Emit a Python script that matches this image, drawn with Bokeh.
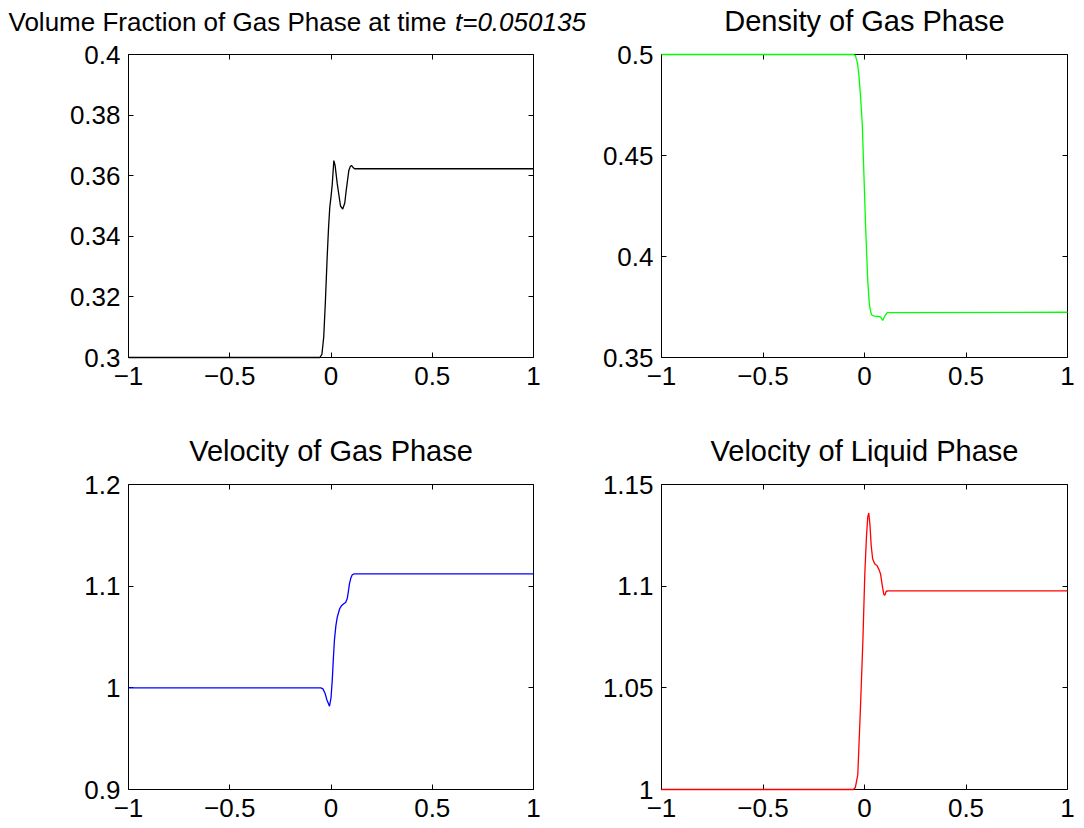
from bokeh.plotting import figure
from bokeh.models import Range1d, FixedTicker, LinearAxis, Label, CustomJSTickFormatter
from bokeh.layouts import gridplot
from bokeh.embed import file_html
from bokeh.resources import INLINE

FONT = "Liberation Sans"

# ---- data ----
x_ticks = [-1, -0.5, 0, 0.5, 1]
x_tick_labels = ["\u22121", "\u22120.5", "0", "0.5", "1"]

vf_x = [-1, -0.055, -0.045, -0.036, -0.028, -0.019, -0.012, -0.006, 0.0, 0.006, 0.01, 0.014,
        0.02, 0.031, 0.047, 0.058, 0.068, 0.075, 0.088, 0.095, 0.101, 0.108, 0.116, 0.13, 1]
vf_y = [0.3, 0.3, 0.301, 0.3067, 0.318, 0.333, 0.343, 0.3496, 0.353, 0.357, 0.361, 0.365,
        0.3635, 0.3573, 0.350, 0.349, 0.351, 0.3551, 0.3617, 0.3630, 0.3634, 0.3628, 0.3623, 0.3623, 0.3623]
vf_ticks = [0.3, 0.32, 0.34, 0.36, 0.38, 0.4]
vf_tick_labels = ["0.3", "0.32", "0.34", "0.36", "0.38", "0.4"]

rho_x = [-1, -0.055, -0.045, -0.035, -0.028, -0.02, -0.011, -0.003, 0.005, 0.016, 0.022,
         0.026, 0.032, 0.038, 0.05, 0.07, 0.08, 0.09, 0.1, 0.112, 1]
rho_y = [0.5, 0.5, 0.4995, 0.496, 0.4904, 0.480, 0.4657, 0.441, 0.416, 0.388, 0.379,
         0.3749, 0.372, 0.3708, 0.3705, 0.3703, 0.370, 0.3683, 0.3705, 0.3722, 0.3724]
rho_ticks = [0.35, 0.4, 0.45, 0.5]
rho_tick_labels = ["0.35", "0.4", "0.45", "0.5"]

ug_x = [-1, -0.05, -0.04, -0.03, -0.02, -0.0074, 0.0, 0.006, 0.012, 0.017, 0.024, 0.031,
        0.043, 0.053, 0.063, 0.072, 0.080, 0.086, 0.091, 0.098, 0.105, 0.115, 1]
ug_y = [1.0, 1.0, 0.999, 0.995, 0.988, 0.982, 0.99, 1.007, 1.03, 1.047, 1.061, 1.0695,
        1.078, 1.081, 1.0827, 1.084, 1.0876, 1.095, 1.1023, 1.108, 1.1112, 1.1121, 1.1121]
ug_ticks = [0.9, 1.0, 1.1, 1.2]
ug_tick_labels = ["0.9", "1", "1.1", "1.2"]

ul_x = [-1, -0.055, -0.045, -0.033, -0.02, -0.008, 0.0015, 0.01, 0.016, 0.021, 0.027, 0.033,
        0.04, 0.05, 0.062, 0.072, 0.079, 0.088, 0.095, 0.1, 0.107, 0.12, 1]
ul_y = [1.0, 1.0, 1.001, 1.0073, 1.040, 1.073, 1.106, 1.125, 1.134, 1.136, 1.130, 1.120,
        1.1135, 1.111, 1.110, 1.108, 1.106, 1.100, 1.096, 1.0955, 1.0975, 1.0977, 1.0977]
ul_ticks = [1.0, 1.05, 1.1, 1.15]
ul_tick_labels = ["1", "1.05", "1.1", "1.15"]

titles = ["Volume Fraction of Gas Phase at time", "Density of Gas Phase",
          "Velocity of Gas Phase", "Velocity of Liquid Phase"]
time_label = "t=0.050135"

FMT_CODE = """
let best = 0;
for (let i = 0; i < tv.length; i++) {
  if (Math.abs(tv[i] - tick) < Math.abs(tv[best] - tick)) best = i;
}
return tl[best];
"""

TICK_FS = "26px"
TITLE_FS = "29px"
TITLE1_FS = "26px"


def style_axis(ax, ticks, labels, show_labels, standoff=8):
    ax.ticker = FixedTicker(ticks=ticks)
    ax.major_tick_in = 5
    ax.major_tick_out = 0
    ax.minor_tick_line_color = None
    ax.axis_line_color = "black"
    ax.axis_line_width = 1
    ax.major_tick_line_color = "black"
    ax.major_label_text_font = FONT
    ax.major_label_text_color = "black"
    if show_labels:
        ax.formatter = CustomJSTickFormatter(args=dict(tv=ticks, tl=labels), code=FMT_CODE)
        ax.major_label_text_font_size = TICK_FS
        ax.major_label_standoff = standoff
    else:
        ax.formatter = CustomJSTickFormatter(code="return '';")
        ax.major_label_text_font_size = "1px"
        ax.major_label_standoff = 0


def make_panel(xs, ys, color, yticks, ylabels, width, height, borders):
    left, right, top, bottom = borders
    p = figure(width=width, height=height, output_backend="svg", toolbar_location=None,
               x_range=Range1d(-1, 1), y_range=Range1d(yticks[0], yticks[-1]),
               min_border_left=left, min_border_right=right,
               min_border_top=top, min_border_bottom=bottom)
    p.outline_line_color = None
    p.grid.visible = False
    p.background_fill_color = "white"
    p.border_fill_color = "white"
    style_axis(p.xaxis[0], x_ticks, x_tick_labels, True, standoff=9)
    style_axis(p.yaxis[0], yticks, ylabels, True, standoff=8)
    top_ax = LinearAxis()
    style_axis(top_ax, x_ticks, x_tick_labels, False)
    p.add_layout(top_ax, "above")
    right_ax = LinearAxis()
    style_axis(right_ax, yticks, ylabels, False)
    p.add_layout(right_ax, "right")
    r = p.line(xs, ys, line_color=color, line_width=1.3)
    r.level = "overlay"
    return p


def title_label(x, y, text, size, align="center", style="normal"):
    return Label(x=x, y=y, text=text, text_font=FONT, text_font_size=size,
                 text_align=align, text_font_style=style, text_baseline="alphabetic",
                 text_color="black")


W1, W2 = 598, 486
H1, H2 = 433, 395
L2 = 661 - W1

p1 = make_panel(vf_x, vf_y, "#000000", vf_ticks, vf_tick_labels, W1, H1, (128, 65, 54, 76))
p2 = make_panel(rho_x, rho_y, "#00ff00", rho_ticks, rho_tick_labels, W2, H1, (L2, 17, 54, 76))
p3 = make_panel(ug_x, ug_y, "#0000ff", ug_ticks, ug_tick_labels, W1, H2, (128, 65, 51, 39))
p4 = make_panel(ul_x, ul_y, "#ff0000", ul_ticks, ul_tick_labels, W2, H2, (L2, 17, 51, 39))

# titles: labels placed in side panels (not clipped there); positions in data units
p1.add_layout(title_label(-1.5926, 0.41089, titles[0], TITLE1_FS, align="left"), "above")
p1.add_layout(title_label(0.6123, 0.41089, time_label, TITLE1_FS, align="left", style="italic"), "below")
p2.add_layout(title_label(0.0, 0.51634, titles[1], TITLE_FS), "above")
p3.add_layout(title_label(0.0, 1.23246, titles[2], TITLE_FS), "above")
p4.add_layout(title_label(0.0, 1.16628, titles[3], TITLE_FS), "above")

grid = gridplot([[p1, p2], [p3, p4]], toolbar_location=None)

open("out.html", "w").write(file_html(grid, INLINE))
